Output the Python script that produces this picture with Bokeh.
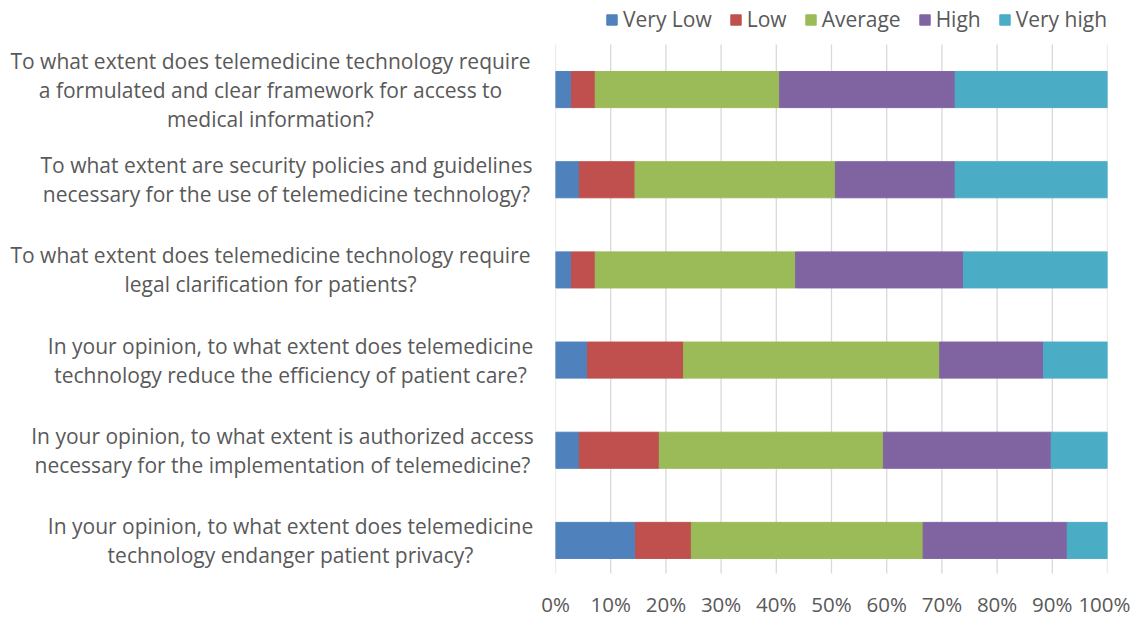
from bokeh.plotting import figure
from bokeh.models import ColumnDataSource, Range1d, FixedTicker, Legend, LegendItem
from bokeh.layouts import row
from bokeh.core.properties import value
from bokeh.embed import file_html
from bokeh.resources import INLINE

categories = [
    ["To what extent does telemedicine technology require",
     "a formulated and clear framework for access to",
     "medical information?"],
    ["To what extent are security policies and guidelines",
     "necessary for the use of telemedicine technology?"],
    ["To what extent does telemedicine technology require",
     "legal clarification for patients?"],
    ["In your opinion, to what extent does telemedicine",
     "technology reduce the efficiency of patient care?"],
    ["In your opinion, to what extent is authorized access",
     "necessary for the implementation of telemedicine?"],
    ["In your opinion, to what extent does telemedicine",
     "technology endanger patient privacy?"],
]
series = ["Very Low", "Low", "Average", "High", "Very high"]
very_low = [2.9, 4.3, 2.9, 5.8, 4.3, 14.5]
low = [4.3, 10.1, 4.3, 17.4, 14.5, 10.1]
average = [33.4, 36.3, 36.3, 46.4, 40.6, 42.0]
high = [31.8, 21.7, 30.4, 18.8, 30.4, 26.1]
very_high = [27.6, 27.6, 26.1, 11.6, 10.2, 7.3]
tick_values = [0, 10, 20, 30, 40, 50, 60, 70, 80, 90, 100]
tick_labels = ["0%", "10%", "20%", "30%", "40%", "50%", "60%", "70%", "80%", "90%", "100%"]

colors = ["#4F81BD", "#C0504D", "#9BBB59", "#8064A2", "#4BACC6"]
label_centers = [270, 286, 270, 290, 282, 290]  # px centre of each label block (left panel)
FONT = "Open Sans"
GREY = "#595959"
H = 625
BOTTOM = 52
FRAME_H = H - BOTTOM          # frame spans from the top of the canvas
BAND_TOP, BAND_BOTTOM = 44, 585   # pixel extent of the category band
LEFT_W = 535
GAP = 20                      # left border of the bar figure (frame starts at 555)

n = len(categories)
upp = n / (BAND_BOTTOM - BAND_TOP)          # data units per pixel
y_end = n + BAND_TOP * upp
y_start = n - (FRAME_H - BAND_TOP) * upp
ypos = [n - 0.5 - i for i in range(n)]
source = ColumnDataSource(dict(y=ypos, **{
    "Very Low": very_low, "Low": low, "Average": average,
    "High": high, "Very high": very_high}))

# ---- left panel with the question texts
lx, ly, lt, lo = [], [], [], []
for yc, lines, cx in zip(ypos, categories, label_centers):
    k = len(lines)
    for j, line in enumerate(lines):
        lx.append(cx)
        ly.append(yc)
        lt.append(line)
        lo.append(-((k - 1) / 2 - j) * 29)
left = figure(width=LEFT_W, height=H, x_range=Range1d(0, LEFT_W), y_range=Range1d(y_start, y_end),
              output_backend="svg", toolbar_location=None,
              min_border_left=0, min_border_right=0, min_border_top=0, min_border_bottom=BOTTOM)
left.text(x=lx, y=ly, text=lt, y_offset=lo, text_align="center", text_baseline="middle",
          text_font=value(FONT), text_font_size="21px", text_color=GREY)
left.axis.visible = False
left.grid.visible = False
left.outline_line_color = None

# ---- main bar chart
p = figure(width=1139 - LEFT_W - 9, height=H, x_range=Range1d(0, 100), y_range=Range1d(y_start, y_end),
           output_backend="svg", toolbar_location=None,
           min_border_left=GAP, min_border_right=23, min_border_top=0, min_border_bottom=BOTTOM)

# vertical gridlines limited to the category band
p.segment(x0=tick_values, x1=tick_values, y0=[0] * len(tick_values), y1=[n] * len(tick_values),
          line_color="#D9D9D9", line_width=1.3)

rs = p.hbar_stack(series, y="y", height=0.4, color=colors, source=source)

p.xaxis.ticker = FixedTicker(ticks=tick_values)
p.xaxis.major_label_overrides = {v: l for v, l in zip(tick_values, tick_labels)}
p.xaxis.axis_line_color = None
p.xaxis.major_tick_line_color = None
p.xaxis.minor_tick_line_color = None
p.xaxis.major_label_text_font = FONT
p.xaxis.major_label_text_font_size = "20.5px"
p.xaxis.major_label_text_color = GREY
p.xaxis.major_label_standoff = 10
p.yaxis.visible = False
p.grid.visible = False
p.outline_line_color = None

lg = Legend(items=[LegendItem(label=s, renderers=[r]) for s, r in zip(series, rs)],
            orientation="horizontal", location=(50, FRAME_H - 33),
            border_line_color=None, background_fill_alpha=0,
            label_text_font=FONT, label_text_font_size="21px", label_text_color=GREY,
            glyph_width=13, glyph_height=13, label_standoff=5, spacing=17,
            padding=0, margin=0)
p.add_layout(lg, "center")

layout = row(left, p)
open("out.html", "w").write(file_html(layout, INLINE))
